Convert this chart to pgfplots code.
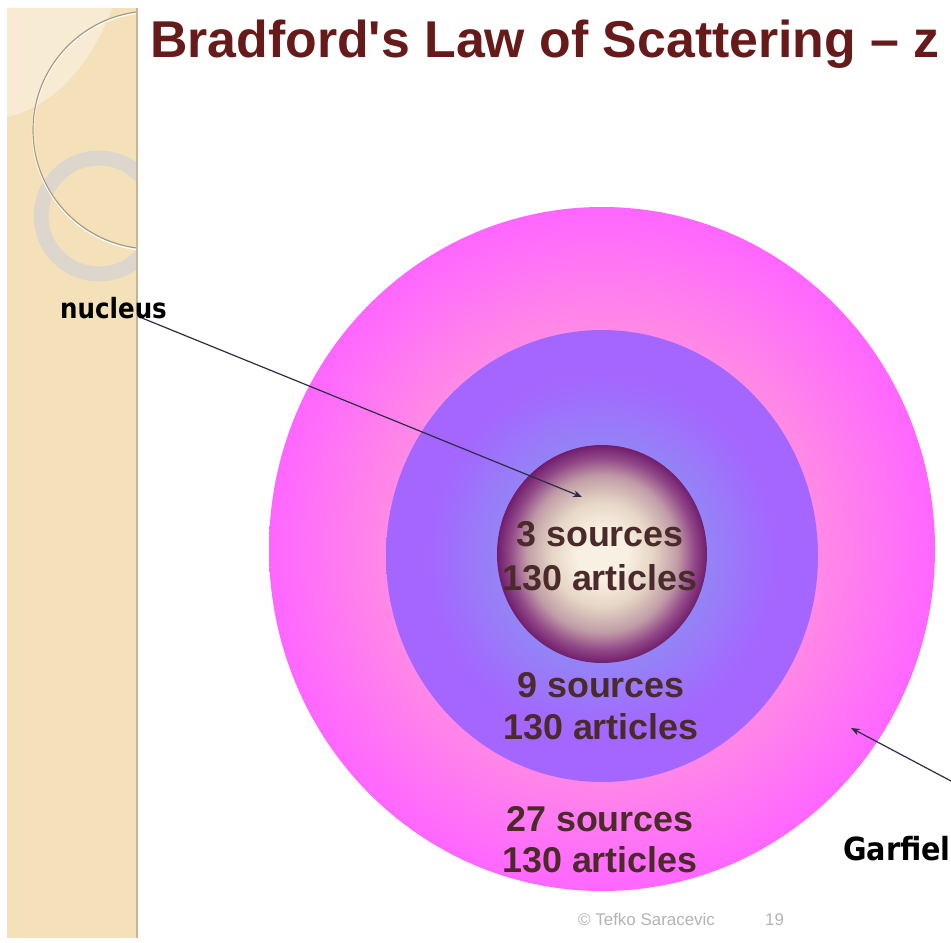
\documentclass[border=0pt]{standalone}
\usepackage{pgfplots}
\pgfplotsset{compat=1.18}
\usepackage{fontspec}
\setmainfont{Liberation Sans}
\newfontfamily\comic{DejaVu Sans}
\usetikzlibrary{arrows.meta}

\definecolor{tanbg}{HTML}{F4E1BA}
\definecolor{tanlight}{HTML}{F7EBD4}
\definecolor{tanline}{HTML}{C2B59A}
\definecolor{ringgrey}{HTML}{DCD6CC}
\definecolor{arcline}{HTML}{A89878}
\definecolor{titlecol}{HTML}{671A1A}
\definecolor{labcol}{HTML}{4A2A2A}
\definecolor{footcol}{HTML}{B4B4B4}
\definecolor{arrowcol}{HTML}{2C2C44}
% inner ball
\definecolor{ballc}{HTML}{F8F0E2}
\definecolor{ballb}{HTML}{E6D6C6}
\definecolor{ballm}{HTML}{C09CA6}
\definecolor{balld}{HTML}{924888}
\definecolor{balle}{HTML}{701E6C}
% middle ring
\definecolor{midc}{HTML}{8E8CF2}
\definecolor{midm}{HTML}{9484F6}
\definecolor{mide}{HTML}{A466FF}
% outer ring
\definecolor{outc}{HTML}{FF9ADA}
\definecolor{outm}{HTML}{FF8AE6}
\definecolor{oute}{HTML}{FF66FF}

\pgfdeclareradialshading{innerball}{\pgfpoint{0bp}{0bp}}{color(0bp)=(ballc); color(6bp)=(ballc); color(12bp)=(ballb); color(18bp)=(ballm); color(22bp)=(balld); color(25bp)=(balle); color(50bp)=(balle)}
\pgfdeclareradialshading{midball}{\pgfpoint{0bp}{0bp}}{color(0bp)=(midc); color(12bp)=(midm); color(20bp)=(mide); color(25bp)=(mide); color(50bp)=(mide)}
\pgfdeclareradialshading{outball}{\pgfpoint{0bp}{0bp}}{color(0bp)=(outc); color(16bp)=(outm); color(25bp)=(oute); color(50bp)=(oute)}

\begin{document}
\begin{tikzpicture}
\clip (0,0) rectangle (951bp,943bp);
\begin{axis}[at={(0,0)}, anchor=south west, scale only axis,
  width=951bp, height=943bp,
  xmin=0, xmax=951, ymin=0, ymax=943, y dir=reverse,
  hide axis, clip=false]

% slide background
\fill[white] (axis cs:0,0) rectangle (axis cs:951,943);
\fill[tanbg] (axis cs:7,8) rectangle (axis cs:137,938);
\begin{scope}
  \clip (axis cs:7,8) rectangle (axis cs:137,938);
  \fill[tanlight] (axis cs:7,8) -- (axis cs:112,8) .. controls (axis cs:95,55) and (axis cs:60,105) .. (axis cs:7,117) -- cycle;
  \draw[ringgrey, line width=15] (axis cs:99,216) circle [radius=58];
  \draw[white, line width=2.2] (axis cs:152,131) circle [radius=119];
  \draw[arcline, line width=1.2] (axis cs:152,130) circle [radius=119];
\end{scope}
\draw[tanline, line width=2.5] (axis cs:137,8) -- (axis cs:137,938);

% concentric zones (Bradford)
\shade[shading=outball] (axis cs:602,549) ellipse [x radius=333, y radius=342];
\shade[shading=midball] (axis cs:602,556) ellipse [x radius=216, y radius=226];
\shade[shading=innerball] (axis cs:602,554) ellipse [x radius=105, y radius=109];

% title
\node[anchor=base west, inner sep=0, text=titlecol, font=\fontsize{52}{60}\selectfont\bfseries]
  at (axis cs:150,58) {Bradford\textquotesingle s Law of Scattering – z};

% zone labels
\node[anchor=base, inner sep=0, text=labcol, font=\fontsize{36}{40}\selectfont\bfseries] at (axis cs:600,546) {3 sources};
\node[anchor=base, inner sep=0, text=labcol, font=\fontsize{36}{40}\selectfont\bfseries] at (axis cs:600,590) {130 articles};
\node[anchor=base, inner sep=0, text=labcol, font=\fontsize{36}{40}\selectfont\bfseries] at (axis cs:601,697) {9 sources};
\node[anchor=base, inner sep=0, text=labcol, font=\fontsize{36}{40}\selectfont\bfseries] at (axis cs:601,739) {130 articles};
\node[anchor=base, inner sep=0, text=labcol, font=\fontsize{36}{40}\selectfont\bfseries] at (axis cs:600,831) {27 sources};
\node[anchor=base, inner sep=0, text=labcol, font=\fontsize{36}{40}\selectfont\bfseries] at (axis cs:600,872) {130 articles};

% annotations
\addplot[arrowcol, line width=1.2, -{Stealth[length=9, width=7]}] coordinates {(142,318) (582,497)};
\addplot[arrowcol, line width=1.2, -{Stealth[length=9, width=7]}] coordinates {(951,781) (851,728)};
\node[anchor=base west, inner sep=0, xscale=0.88, font=\comic\fontsize{28}{32}\selectfont\bfseries] at (axis cs:60,318) {nucleus};
\node[anchor=base west, inner sep=0, xscale=0.9, font=\comic\fontsize{32}{36}\selectfont\bfseries] at (axis cs:843,860) {Garfiel};

% footer
\node[anchor=base west, inner sep=0, text=footcol, font=\fontsize{17}{20}\selectfont] at (axis cs:578,925) {© Tefko Saracevic};
\node[anchor=base west, inner sep=0, text=footcol, font=\fontsize{17}{20}\selectfont] at (axis cs:765,925) {19};
\end{axis}
\end{tikzpicture}
\end{document}
